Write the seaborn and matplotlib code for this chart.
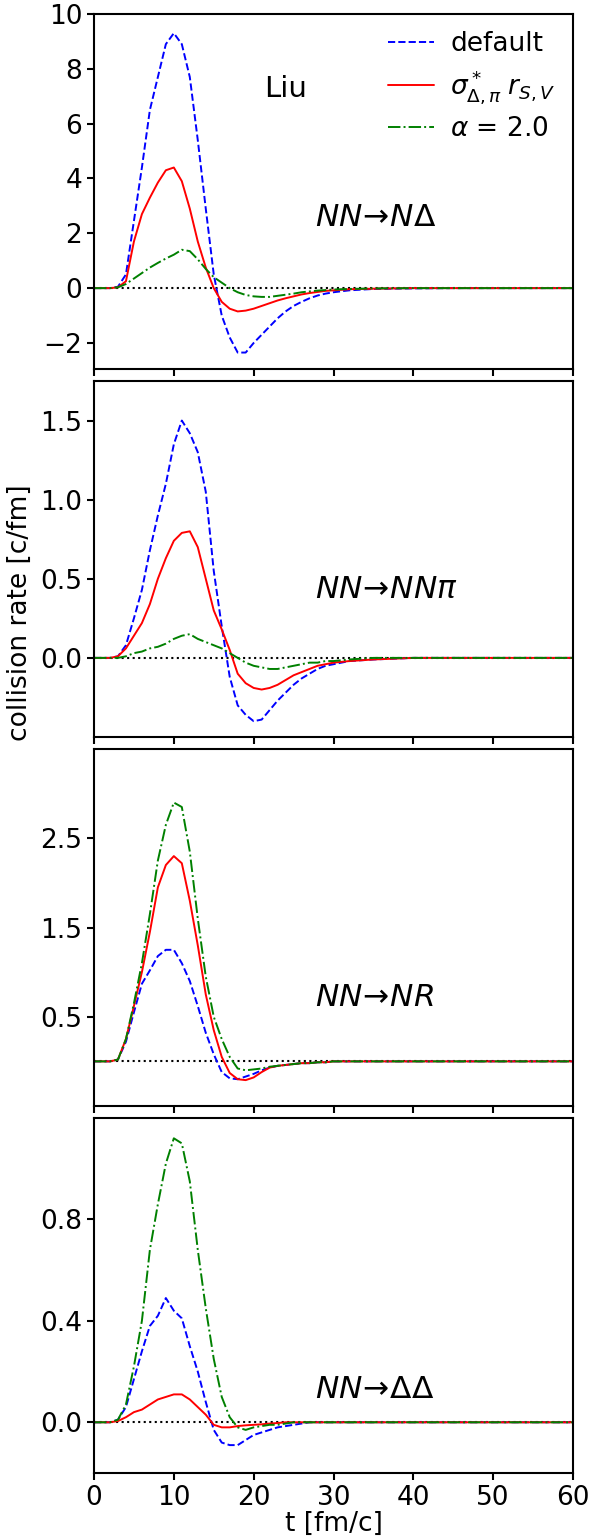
import numpy as np
import pandas as pd
import matplotlib
matplotlib.use("Agg")
import matplotlib.pyplot as plt
import seaborn as sns

# ---------------- data ----------------
t = [0, 1, 2, 3, 4, 5, 6, 7, 8, 9, 10, 11, 12, 13, 14, 15, 16, 17, 18, 19, 20,
     21, 22, 23, 24, 25, 26, 27, 28, 29, 30, 32, 35, 40, 45, 50, 55, 60]

# panel 1: NN -> N Delta
nd_default = [0, 0, 0, 0.05, 0.5, 2.45, 4.4, 6.5, 7.7, 8.9, 9.3, 8.9, 7.7, 5.4, 2.9, 0.5,
              -1.0, -1.8, -2.35, -2.35, -2.0, -1.7, -1.4, -1.1, -0.85, -0.65, -0.5, -0.37,
              -0.27, -0.2, -0.15, -0.08, -0.03, -0.01, 0, 0, 0, 0]
nd_sigma = [0, 0, 0, 0.03, 0.25, 1.7, 2.7, 3.3, 3.85, 4.3, 4.4, 3.9, 2.9, 1.7, 0.75, 0.0,
            -0.5, -0.75, -0.85, -0.82, -0.75, -0.65, -0.55, -0.45, -0.37, -0.3, -0.23, -0.18,
            -0.14, -0.1, -0.08, -0.04, -0.02, 0, 0, 0, 0, 0]
nd_alpha = [0, 0, 0, 0.03, 0.15, 0.35, 0.55, 0.75, 0.92, 1.08, 1.22, 1.4, 1.35, 1.05, 0.7, 0.4,
            0.2, 0.0, -0.15, -0.25, -0.3, -0.32, -0.32, -0.28, -0.24, -0.2, -0.15, -0.12,
            -0.09, -0.07, -0.05, -0.03, -0.01, 0, 0, 0, 0, 0]

# panel 2: NN -> NN pi
nnp_default = [0, 0, 0, 0.01, 0.08, 0.25, 0.43, 0.68, 0.9, 1.1, 1.35, 1.5, 1.42, 1.3, 1.05, 0.55,
               0.2, -0.12, -0.3, -0.36, -0.4, -0.39, -0.33, -0.27, -0.22, -0.17, -0.13, -0.1,
               -0.07, -0.05, -0.04, -0.02, -0.01, 0, 0, 0, 0, 0]
nnp_sigma = [0, 0, 0, 0.01, 0.06, 0.14, 0.22, 0.34, 0.5, 0.63, 0.74, 0.79, 0.8, 0.7, 0.5, 0.3,
             0.18, 0.05, -0.1, -0.16, -0.19, -0.2, -0.19, -0.17, -0.14, -0.11, -0.09, -0.07,
             -0.05, -0.04, -0.03, -0.02, -0.01, 0, 0, 0, 0, 0]
nnp_alpha = [0, 0, 0, 0, 0.01, 0.03, 0.04, 0.06, 0.07, 0.09, 0.12, 0.14, 0.15, 0.12, 0.1, 0.08,
             0.06, 0.03, 0.0, -0.03, -0.05, -0.06, -0.07, -0.07, -0.06, -0.05, -0.04, -0.03,
             -0.03, -0.02, -0.02, -0.01, 0, 0, 0, 0, 0, 0]

# panel 3: NN -> N R
nr_default = [0, 0, 0, 0.02, 0.22, 0.55, 0.87, 1.02, 1.18, 1.25, 1.25, 1.1, 0.9, 0.62, 0.32, 0.08,
              -0.12, -0.19, -0.2, -0.17, -0.14, -0.1, -0.07, -0.05, -0.04, -0.03, -0.02, -0.02,
              -0.01, -0.01, 0, 0, 0, 0, 0, 0, 0, 0]
nr_sigma = [0, 0, 0, 0.02, 0.25, 0.62, 1.0, 1.45, 1.95, 2.2, 2.3, 2.22, 1.8, 1.3, 0.75, 0.35,
            0.05, -0.13, -0.2, -0.21, -0.18, -0.12, -0.07, -0.05, -0.04, -0.03, -0.02, -0.02,
            -0.01, -0.01, 0, 0, 0, 0, 0, 0, 0, 0]
nr_alpha = [0, 0, 0, 0.02, 0.25, 0.65, 1.1, 1.65, 2.25, 2.65, 2.9, 2.85, 2.35, 1.6, 0.95, 0.5,
            0.25, 0.05, -0.08, -0.1, -0.09, -0.08, -0.06, -0.05, -0.04, -0.03, -0.02, -0.02,
            -0.01, -0.01, 0, 0, 0, 0, 0, 0, 0, 0]

# panel 4: NN -> Delta Delta
dd_default = [0, 0, 0, 0.01, 0.06, 0.17, 0.28, 0.38, 0.42, 0.49, 0.44, 0.41, 0.3, 0.2, 0.08, -0.03,
              -0.08, -0.09, -0.09, -0.07, -0.05, -0.04, -0.03, -0.02, -0.015, -0.01, -0.005, 0,
              0, 0, 0, 0, 0, 0, 0, 0, 0, 0]
dd_sigma = [0, 0, 0, 0.005, 0.02, 0.04, 0.05, 0.07, 0.09, 0.1, 0.11, 0.11, 0.09, 0.06, 0.03, -0.01,
            -0.02, -0.02, -0.015, -0.012, -0.01, -0.008, -0.005, -0.003, 0, 0, 0, 0,
            0, 0, 0, 0, 0, 0, 0, 0, 0, 0]
dd_alpha = [0, 0, 0, 0.01, 0.07, 0.22, 0.4, 0.68, 0.86, 1.02, 1.12, 1.1, 0.95, 0.68, 0.45, 0.25,
            0.1, 0.02, -0.02, -0.03, -0.02, -0.015, -0.01, -0.01, -0.005, 0, 0, 0,
            0, 0, 0, 0, 0, 0, 0, 0, 0, 0]

series_labels = ["default", r"$\sigma^*_{\Delta,\pi}\;r_{S,V}$", r"$\alpha$ = 2.0"]
reaction_labels = [r"$NN\!\rightarrow\!N\Delta$", r"$NN\!\rightarrow\!NN\pi$",
                   r"$NN\!\rightarrow\!NR$", r"$NN\!\rightarrow\!\Delta\Delta$"]
panel_data = [(nd_default, nd_sigma, nd_alpha), (nnp_default, nnp_sigma, nnp_alpha),
              (nr_default, nr_sigma, nr_alpha), (dd_default, dd_sigma, dd_alpha)]
y_limits = [(-2.95, 10), (-0.5, 1.75), (-0.5, 3.5), (-0.2, 1.2)]
y_ticks = [[-2, 0, 2, 4, 6, 8, 10], [0.0, 0.5, 1.0, 1.5], [0.5, 1.5, 2.5], [0.0, 0.4, 0.8]]
y_ticklabels = [["\u22122", "0", "2", "4", "6", "8", "10"], ["0.0", "0.5", "1.0", "1.5"],
                ["0.5", "1.5", "2.5"], ["0.0", "0.4", "0.8"]]
x_ticks = [0, 10, 20, 30, 40, 50, 60]

# ---------------- style ----------------
sns.set_style("ticks")
plt.rcParams["font.family"] = ["DejaVu Sans"]
plt.rcParams["mathtext.fontset"] = "dejavusans"
plt.rcParams["text.color"] = "black"
plt.rcParams["axes.labelcolor"] = "black"
plt.rcParams["axes.linewidth"] = 1.5
plt.rcParams["axes.edgecolor"] = "black"
plt.rcParams["xtick.major.width"] = 1.5
plt.rcParams["ytick.major.width"] = 1.5
plt.rcParams["xtick.major.size"] = 5
plt.rcParams["ytick.major.size"] = 5
plt.rcParams["xtick.color"] = "black"
plt.rcParams["ytick.color"] = "black"

W, H = 593, 1540
fig = plt.figure(figsize=(W / 100, H / 100), dpi=100)

left_px, right_px = 94, 573
panels_px = [(14, 369), (381, 737), (749, 1106), (1118, 1473)]
colors = ["blue", "red", "green"]
styles = ["--", "-", "-."]
text_y = [0.427, 0.413, 0.305, 0.234]
FS = 19

axes = []
for i, (top, bot) in enumerate(panels_px):
    ax = fig.add_axes([left_px / W, 1 - bot / H, (right_px - left_px) / W, (bot - top) / H])
    axes.append(ax)
    ax.axhline(0, color="black", linestyle=":", linewidth=1.5, zorder=1)
    for j, vals in enumerate(panel_data[i]):
        df = pd.DataFrame({"t": t, "rate": vals})
        sns.lineplot(data=df, x="t", y="rate", ax=ax, color=colors[j], linestyle=styles[j],
                     linewidth=1.4, label=series_labels[j] if i == 0 else None, zorder=2)
    ax.set_xlim(0, 60)
    ax.set_ylim(*y_limits[i])
    ax.set_yticks(y_ticks[i])
    ax.set_yticklabels(y_ticklabels[i], fontsize=FS)
    ax.set_xticks(x_ticks)
    if i == 3:
        ax.set_xticklabels([str(v) for v in x_ticks], fontsize=FS)
        ax.set_xlabel("t [fm/c]", fontsize=FS, labelpad=0)
    else:
        ax.set_xticklabels([])
        ax.set_xlabel("")
    ax.set_ylabel("")
    for s in ax.spines.values():
        s.set_visible(True)
    ax.text(0.462, text_y[i], reaction_labels[i], transform=ax.transAxes,
            fontsize=22.5, ha="left", va="center")
    if ax.get_legend() is not None:
        ax.get_legend().remove()

axes[0].legend(loc="upper right", frameon=False, fontsize=FS, handlelength=1.75,
               borderaxespad=0.25, labelspacing=0.4, handletextpad=0.6)
axes[0].text(0.40, 0.79, "Liu", transform=axes[0].transAxes, fontsize=21,
             ha="center", va="center")

fig.text(20 / W, 1 - 613 / H, "collision rate [c/fm]", rotation=90, fontsize=FS,
         ha="center", va="center")

fig.savefig("out.png", dpi=100)
